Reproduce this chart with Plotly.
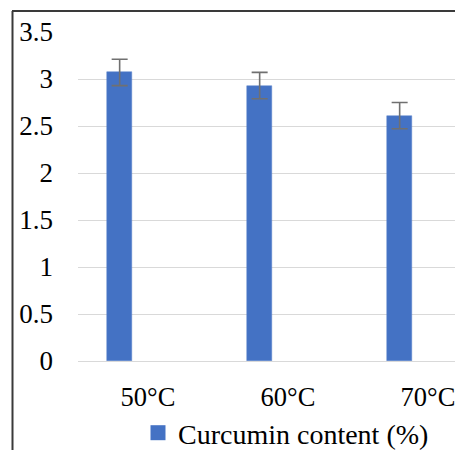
import plotly.graph_objects as go

categories = ["50°C", "60°C", "70°C"]
curcumin = [3.07, 2.93, 2.61]
errors = [0.14, 0.14, 0.14]
y_ticks = [0, 0.5, 1, 1.5, 2, 2.5, 3, 3.5]
y_tick_labels = ["0", "0.5", "1", "1.5", "2", "2.5", "3", "3.5"]
series_name = "Curcumin content (%)"

W, H = 455, 450
ML, MR, MT, MB = 78, 0, 32, 450 - 361
pw = W - ML - MR
ph = H - MT - MB
CAT = 140.0
BAR_COLOR = "#4472C4"

def px_x(p):
    return (p - ML) / pw

def px_y(p):
    return (H - MB - p) / ph

fig = go.Figure()
fig.add_trace(go.Bar(
    x=categories, y=curcumin, name=series_name, showlegend=False,
    marker=dict(color=BAR_COLOR, line=dict(color="#5b84cc", width=0.5)),
    width=0.175, offset=-0.29,
    error_y=dict(type="data", array=errors, visible=True, color="#707070", thickness=1.6, width=8),
))
# legend entry (square swatch like the reference)
fig.add_trace(go.Scatter(
    x=[None], y=[None], mode="markers", name=series_name,
    marker=dict(symbol="square", size=15, color=BAR_COLOR),
))

tick_font = dict(family="Liberation Serif", size=27, color="#000000")
x_font = dict(family="Liberation Serif", size=26.5, color="#000000")
leg_font = dict(family="Liberation Serif", size=28, color="#000000")

fig.update_layout(
    template="none",
    width=W, height=H,
    margin=dict(l=ML, r=MR, t=MT, b=MB, pad=0, autoexpand=False),
    plot_bgcolor="white", paper_bgcolor="white",
    font=tick_font,
    showlegend=True,
    legend=dict(orientation="h", x=px_x(138), xanchor="left", y=px_y(433), yanchor="middle",
                font=leg_font, itemwidth=30, bgcolor="rgba(0,0,0,0)", borderwidth=0),
    xaxis=dict(type="category", range=[-0.5, -0.5 + pw / CAT], showgrid=False, showline=False,
               zeroline=False, ticks="", ticklabelstandoff=17, tickfont=x_font, fixedrange=True,
               automargin=False),
    yaxis=dict(range=[0, 3.5], tickvals=y_ticks, ticktext=y_tick_labels, showgrid=True,
               gridcolor="#d9d9d9", gridwidth=1, zeroline=True, zerolinecolor="#d9d9d9", zerolinewidth=1,
               showline=False, ticks="", ticklabelstandoff=24, tickfont=tick_font, automargin=False),
    bargap=0,
)

# chart border (left and top)
fig.add_shape(type="line", xref="paper", yref="paper",
              x0=px_x(12.5), x1=px_x(12.5), y0=px_y(11), y1=px_y(460),
              line=dict(color="#3a3a3a", width=2))
fig.add_shape(type="line", xref="paper", yref="paper",
              x0=px_x(12), x1=px_x(470), y0=px_y(11), y1=px_y(11),
              line=dict(color="#3a3a3a", width=2))

fig.write_html(
    "out.html",
    config={"displayModeBar": False},
    post_script="document.body.style.margin='0';document.body.style.overflow='hidden';"
                "document.documentElement.style.overflow='hidden';",
)
